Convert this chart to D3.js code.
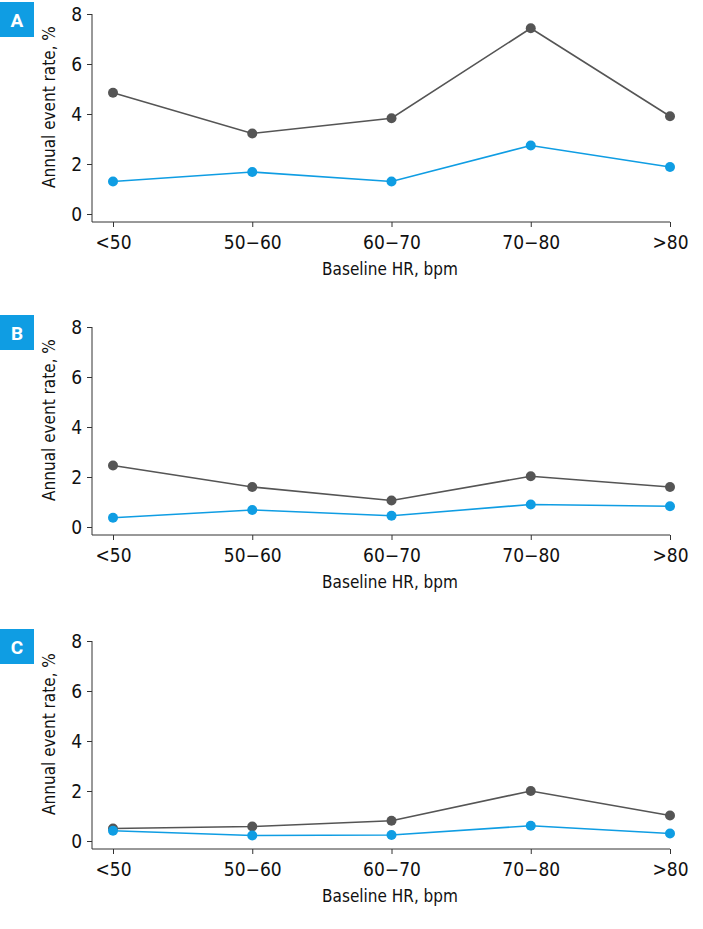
<!DOCTYPE html>
<html>
<head>
<meta charset="utf-8">
<script src="https://cdn.jsdelivr.net/npm/d3@7"></script>
<style>
  body { margin: 0; background: #fff; }
  text { font-family: "Liberation Sans Narrow", "DejaVu Sans Condensed", "Roboto", sans-serif; }
</style>
</head>
<body>
<svg id="mainChart"></svg>
<script>
var categories = ['<50', '50\u221260', '60\u221270', '70\u221280', '>80'];
var yTicks = [0, 2, 4, 6, 8];
var panelLabels = ['A', 'B', 'C'];
var grayA = [4.85, 3.22, 3.83, 7.43, 3.91];
var blueA = [1.30, 1.68, 1.30, 2.74, 1.88];
var grayB = [2.46, 1.60, 1.06, 2.03, 1.60];
var blueB = [0.37, 0.68, 0.45, 0.90, 0.83];
var grayC = [0.50, 0.58, 0.81, 2.00, 1.02];
var blueC = [0.41, 0.22, 0.24, 0.61, 0.30];

var panels = [
    { label: panelLabels[0], gray: grayA, blue: blueA },
    { label: panelLabels[1], gray: grayB, blue: blueB },
    { label: panelLabels[2], gray: grayC, blue: blueC }
];

var W = 703, H = 929;
var PANELTOP = [14, 327, 641];
var GRAY = '#555555', BLUE = '#0f9de3';

var svg = d3.select('#mainChart')
    .attr('width', W)
    .attr('height', H);

var xScale = d3.scalePoint()
    .domain(categories)
    .range([113, 670]);

panels.forEach(function (p, i) {
    var top = PANELTOP[i];
    var yScale = d3.scaleLinear()
        .domain([0, 8])
        .range([top + 200, top]);
    var g = svg.append('g').attr('class', 'panel');

    // panel label box
    g.append('rect')
        .attr('x', 0)
        .attr('y', top - 12)
        .attr('width', 34)
        .attr('height', 35)
        .style('fill', '#0f9de3');
    g.append('text')
        .attr('x', 17)
        .attr('y', top + 13)
        .attr('text-anchor', 'middle')
        .style('font-family', 'Roboto, sans-serif')
        .style('font-weight', '700')
        .style('font-size', '19px')
        .style('fill', '#fff')
        .text(p.label);

    // y axis
    var yAxis = d3.axisLeft(yScale)
        .tickValues(yTicks)
        .tickSize(5)
        .tickPadding(5);
    var ya = g.append('g')
        .attr('transform', 'translate(92,0)')
        .call(yAxis);
    ya.select('.domain').attr('d', 'M0,' + top + 'V' + (top + 208));
    ya.selectAll('line').style('stroke', '#333');
    ya.select('.domain').style('stroke', '#333');
    ya.selectAll('text')
        .style('font-size', '19px')
        .style('fill', '#111');

    // x axis
    var xAxis = d3.axisBottom(xScale)
        .tickSize(5)
        .tickPadding(9);
    var xa = g.append('g')
        .attr('transform', 'translate(0,' + (top + 208) + ')')
        .call(xAxis);
    xa.select('.domain').attr('d', 'M92,0H670');
    xa.selectAll('line').style('stroke', '#333');
    xa.select('.domain').style('stroke', '#333');
    xa.selectAll('text')
        .style('font-size', '19px')
        .style('fill', '#111');

    // axis titles
    g.append('text')
        .attr('x', 390)
        .attr('y', top + 261)
        .attr('text-anchor', 'middle')
        .style('font-size', '17px')
        .style('fill', '#111')
        .text('Baseline HR, bpm');
    g.append('text')
        .attr('transform', 'translate(55,' + (top + 93) + ') rotate(-90)')
        .attr('text-anchor', 'middle')
        .style('font-size', '17px')
        .style('fill', '#111')
        .text('Annual event rate, %');

    // lines and points
    [{ vals: p.gray, color: GRAY }, { vals: p.blue, color: BLUE }].forEach(function (s) {
        var line = d3.line()
            .x(function (d, j) { return xScale(categories[j]); })
            .y(function (d) { return yScale(d); });
        g.append('path')
            .datum(s.vals)
            .attr('d', line)
            .style('fill', 'none')
            .style('stroke', s.color)
            .style('stroke-width', 1.6);
        g.selectAll(null)
            .data(s.vals)
            .enter()
            .append('circle')
            .attr('cx', function (d, j) { return xScale(categories[j]); })
            .attr('cy', function (d) { return yScale(d); })
            .attr('r', 5)
            .style('fill', s.color);
    });
});
</script>
</body>
</html>
